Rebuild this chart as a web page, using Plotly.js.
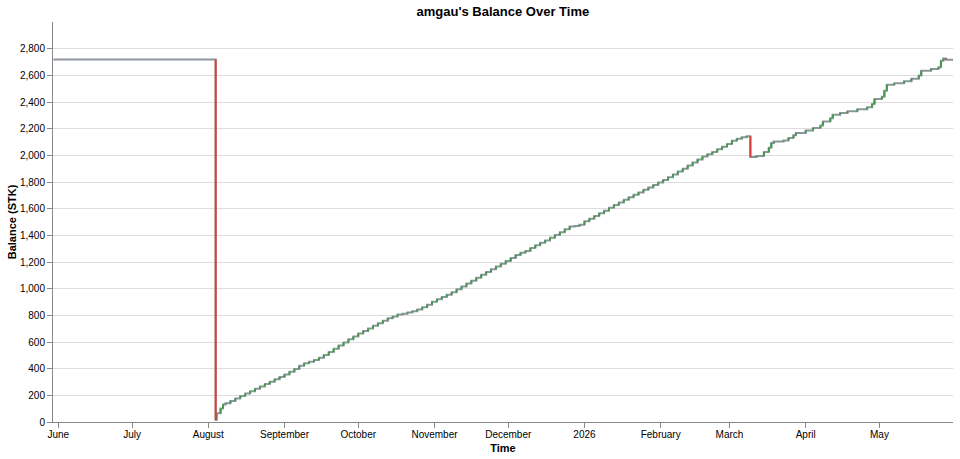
<!DOCTYPE html>
<html>
<head>
<meta charset="utf-8">
<script src="https://cdn.plot.ly/plotly-3.0.1.min.js"></script>
<style>
html,body{margin:0;padding:0;background:#fff;}
#chart{width:960px;height:459px;}
</style>
</head>
<body>
<div id="chart"></div>
<script>
// ---- Data ----
const dates = [
  "2025-05-30","2025-08-04T00:00","2025-08-04T08:00","2025-08-06","2025-08-07","2025-08-08",
  "2025-08-10","2025-08-12","2025-08-14","2025-08-16","2025-08-18","2025-08-20","2025-08-22",
  "2025-08-24","2025-08-26","2025-08-28","2025-08-30","2025-09-01","2025-09-03","2025-09-05",
  "2025-09-07","2025-09-09","2025-09-11","2025-09-13","2025-09-15","2025-09-17","2025-09-19",
  "2025-09-21","2025-09-23","2025-09-25","2025-09-27","2025-09-29","2025-10-01","2025-10-03",
  "2025-10-05","2025-10-07","2025-10-09","2025-10-11","2025-10-13","2025-10-15","2025-10-17",
  "2025-10-19","2025-10-21","2025-10-23","2025-10-25","2025-10-27","2025-10-29","2025-10-31",
  "2025-11-02","2025-11-04","2025-11-06","2025-11-08","2025-11-10","2025-11-12","2025-11-14",
  "2025-11-16","2025-11-18","2025-11-20","2025-11-22","2025-11-24","2025-11-26","2025-11-28",
  "2025-11-30","2025-12-02","2025-12-04","2025-12-06","2025-12-08","2025-12-10","2025-12-12",
  "2025-12-14","2025-12-16","2025-12-18","2025-12-20","2025-12-22","2025-12-24","2025-12-26",
  "2025-12-28","2025-12-30","2026-01-01","2026-01-03","2026-01-05","2026-01-07","2026-01-09",
  "2026-01-11","2026-01-13","2026-01-15","2026-01-17","2026-01-19","2026-01-21","2026-01-23",
  "2026-01-25","2026-01-27","2026-01-29","2026-01-31","2026-02-02","2026-02-04","2026-02-06",
  "2026-02-08","2026-02-10","2026-02-12","2026-02-14","2026-02-16","2026-02-18","2026-02-20",
  "2026-02-22","2026-02-24","2026-02-26","2026-02-28","2026-03-02","2026-03-04","2026-03-06",
  "2026-03-08","2026-03-09T12:00","2026-03-12","2026-03-15","2026-03-17","2026-03-18","2026-03-19",
  "2026-03-23","2026-03-25","2026-03-27","2026-03-28","2026-04-01","2026-04-04","2026-04-07",
  "2026-04-08","2026-04-11","2026-04-12","2026-04-15","2026-04-18","2026-04-22","2026-04-26",
  "2026-04-28","2026-04-29","2026-05-02","2026-05-03","2026-05-04","2026-05-07","2026-05-11",
  "2026-05-14","2026-05-17","2026-05-18","2026-05-22","2026-05-25","2026-05-26","2026-05-27",
  "2026-05-28","2026-05-30T22:00"
];
const balance = [
  2718,15,65,102,132,140,
  158,177,195,213,231,249,267,
  285,302,320,338,356,376,398,
  422,440,452,465,482,503,525,
  549,573,597,620,642,664,683,
  702,721,741,760,778,792,806,
  812,822,831,843,860,880,902,
  921,938,955,973,995,1016,1038,
  1060,1082,1104,1125,1145,1166,1187,
  1208,1230,1252,1270,1283,1305,1325,
  1345,1362,1382,1402,1423,1445,1467,
  1470,1480,1505,1525,1545,1565,1585,
  1606,1627,1646,1666,1685,1704,1722,
  1741,1759,1778,1796,1815,1836,1857,
  1879,1900,1923,1947,1969,1991,2008,
  2025,2045,2065,2085,2110,2125,2136,
  2144,1987,1995,2025,2057,2092,2104,
  2112,2130,2150,2167,2187,2205,2224,
  2254,2278,2305,2318,2330,2345,2360,
  2385,2422,2440,2485,2530,2540,2555,
  2575,2598,2635,2648,2660,2710,2727,
  2717,2717
];
const xTickVals = ["2025-06-01","2025-07-01","2025-08-01","2025-09-01","2025-10-01","2025-11-01",
  "2025-12-01","2026-01-01","2026-02-01","2026-03-01","2026-04-01","2026-05-01"];
const xTickText = ["June","July","August","September","October","November",
  "December","2026","February","March","April","May"];
const yTickVals = [0,200,400,600,800,1000,1200,1400,1600,1800,2000,2200,2400,2600,2800];

// ---- Build vertical step segments from the data ----
const upX = [], upY = [], downX = [], downY = [];
for (let i = 1; i < dates.length; i++) {
  const a = balance[i-1], b = balance[i];
  if (b > a) { upX.push(dates[i], dates[i], null); upY.push(a, b, null); }
  else if (b < a) { downX.push(dates[i], dates[i], null); downY.push(a, b, null); }
}

const traces = [
  { x: dates, y: balance, type: 'scatter', mode: 'lines',
    line: { shape: 'hv', color: '#8e949e', width: 2 }, hoverinfo: 'skip', showlegend: false },
  { x: upX, y: upY, type: 'scatter', mode: 'lines', connectgaps: false,
    line: { color: '#3a9d45', width: 2 }, hoverinfo: 'skip', showlegend: false },
  { x: downX, y: downY, type: 'scatter', mode: 'lines', connectgaps: false,
    line: { color: '#d9403a', width: 2 }, hoverinfo: 'skip', showlegend: false }
];

const font = "'Liberation Sans', Arial, Helvetica, sans-serif";
const layout = {
  width: 960, height: 459,
  margin: { l: 53, r: 7, t: 22, b: 37 },
  paper_bgcolor: '#fff', plot_bgcolor: '#fff',
  font: { family: font, size: 10, color: '#000' },
  title: { text: "<b>amgau's Balance Over Time</b>", font: { family: font, size: 13, color: '#000' },
           x: 0.5238, xanchor: 'center', y: 0.976, yanchor: 'middle' },
  xaxis: {
    type: 'date', range: ["2025-05-29T20:00", "2026-05-30T22:00"],
    tickmode: 'array', tickvals: xTickVals, ticktext: xTickText,
    showgrid: false, zeroline: false, showline: true, linecolor: '#888', linewidth: 1,
    ticks: 'outside', ticklen: 5, tickcolor: '#888', tickfont: { size: 10, color: '#000' },
    ticklabelstandoff: -2,
    title: { text: '<b>Time</b>', font: { size: 11, color: '#000' }, standoff: 5 }
  },
  yaxis: {
    range: [0, 3000], tickmode: 'array', tickvals: yTickVals, tickformat: ',d',
    showgrid: true, gridcolor: '#ddd', gridwidth: 1, zeroline: false,
    showline: true, linecolor: '#888', linewidth: 1,
    ticks: 'outside', ticklen: 5, tickcolor: '#888', tickfont: { size: 10, color: '#000' },
    title: { text: '<b>Balance (STK)</b>', font: { size: 11, color: '#000' }, standoff: 1 }
  }
};
Plotly.newPlot('chart', traces, layout, { displayModeBar: false, staticPlot: true });
</script>
</body>
</html>
